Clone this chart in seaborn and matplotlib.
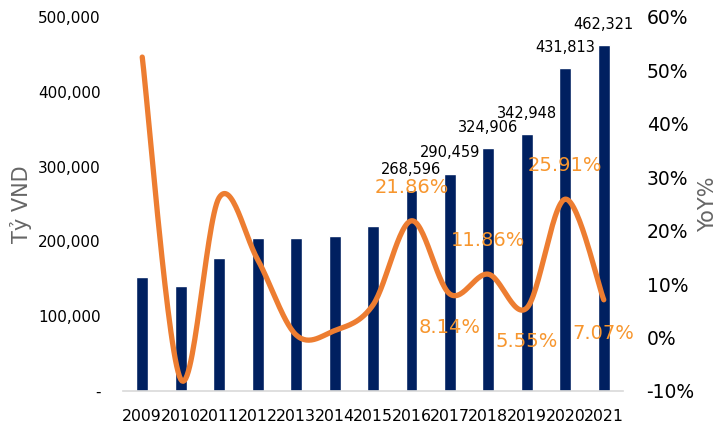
import numpy as np
import pandas as pd
import matplotlib
matplotlib.use('Agg')
import matplotlib.pyplot as plt
import seaborn as sns
from matplotlib.ticker import FuncFormatter, FixedLocator

# data
years = ['2009', '2010', '2011', '2012', '2013', '2014', '2015',
         '2016', '2017', '2018', '2019', '2020', '2021']
value = [153000, 141000, 178000, 204000, 205000, 207700, 220400,
         268596, 290459, 324906, 342948, 431813, 462321]
yoy = [52.5, -7.8, 26.2, 14.6, 0.5, 1.3, 6.1,
       21.86, 8.14, 11.86, 5.55, 25.91, 7.07]
# which bars / points carry a label
value_labelled = [False] * 7 + [True] * 6
yoy_labelled = [False] * 7 + [True] * 6
yoy_label_side = [1, -1, 1, -1, 1, -1]  # above / below for 2016..2021

NAVY = '#002060'
ORANGE = '#ED7D31'
LABEL_ORANGE = '#F7962E'
GREY = '#666666'


def smooth_curve(xs, ys, n=30):
    # Catmull-Rom path through the points, like Excel's "smoothed line"
    p = np.column_stack([xs, ys]).astype(float)
    p = np.vstack([p[0], p, p[-1]])
    out = []
    for i in range(1, len(p) - 2):
        p0, p1, p2, p3 = p[i - 1], p[i], p[i + 1], p[i + 2]
        t = np.linspace(0, 1, n, endpoint=False)[:, None]
        seg = 0.5 * ((2 * p1) + (-p0 + p2) * t + (2 * p0 - 5 * p1 + 4 * p2 - p3) * t ** 2
                     + (-p0 + 3 * p1 - 3 * p2 + p3) * t ** 3)
        out.append(seg)
    out.append(p[-2][None, :])
    out = np.vstack(out)
    return out[:, 0], out[:, 1]


sns.set_style('white')
plt.rcParams['font.family'] = ['DejaVu Sans']

df = pd.DataFrame({'year': years, 'value': value, 'yoy': yoy})

fig = plt.figure(figsize=(7.27, 4.26), dpi=100)
ax = fig.add_axes([123 / 727, 35 / 426, 500 / 727, 374 / 426])

sns.barplot(data=df, x='year', y='value', color=NAVY, width=0.31,
            saturation=1, ax=ax)
ax.set_xlim(-0.5, len(years) - 0.5)
ax.set_ylim(0, 500000)
ax.set_yticks(np.arange(0, 500001, 100000))
ax.yaxis.set_major_formatter(FuncFormatter(lambda v, p: '-' if v == 0 else f'{int(v):,}'))

for s in ['top', 'right', 'left']:
    ax.spines[s].set_visible(False)
ax.spines['bottom'].set_color('#D9D9D9')
ax.spines['bottom'].set_linewidth(1.2)

ax.tick_params(axis='x', which='major', length=0, pad=13, labelsize=11.3, colors='black')
ax.xaxis.set_minor_locator(FixedLocator(np.arange(-0.5, len(years), 1.0)))
ax.tick_params(axis='x', which='minor', length=5, color='#D9D9D9', width=1.2)
ax.tick_params(axis='y', length=0, pad=16, labelsize=11, colors='black')
ax.set_xlabel('')
ax.set_ylabel('Tỷ VND', fontsize=15, color=GREY)
ax.yaxis.set_label_coords(-0.182, 0.5)

for i, (v, show) in enumerate(zip(value, value_labelled)):
    if show:
        ax.annotate(f'{v:,}', (i, v), xytext=(0, 15), textcoords='offset points',
                    ha='center', va='center', fontsize=10.5, color='black')

ax2 = ax.twinx()
ax2.set_ylim(-10, 60)
ax2.set_yticks(np.arange(-10, 61, 10))
ax2.yaxis.set_major_formatter(FuncFormatter(lambda v, p: f'{int(v)}%'))
for s in ax2.spines.values():
    s.set_visible(False)
ax2.tick_params(axis='y', length=0, pad=17, labelsize=13.5, colors='black')
ax2.set_ylabel('YoY%', fontsize=15, color=GREY)
ax2.yaxis.set_label_coords(1.15, 0.5)

cx, cy = smooth_curve(np.arange(len(years)), yoy)
ax2.plot(cx, cy, color=ORANGE, lw=3.8, solid_capstyle='round')

k = 0
for i, (v, show) in enumerate(zip(yoy, yoy_labelled)):
    if show:
        side = yoy_label_side[k]
        k += 1
        ax2.annotate(f'{v:.2f}%', (i, v), xytext=(0, 24 * side), textcoords='offset points',
                     ha='center', va='center', fontsize=14, color=LABEL_ORANGE)

fig.savefig('out.png', dpi=100)
